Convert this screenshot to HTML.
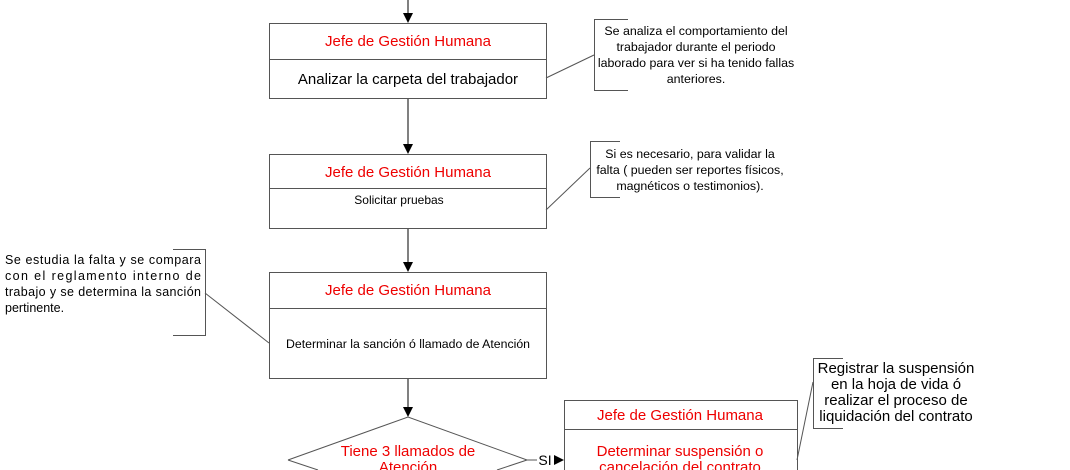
<!DOCTYPE html>
<html><head><meta charset="utf-8"><style>
html,body{margin:0;padding:0;background:#fff;width:1070px;height:470px;overflow:hidden;}
svg{display:block;font-family:"Liberation Sans",Arial,sans-serif;}
</style></head><body>
<svg width="1070" height="470" viewBox="0 0 1070 470" xmlns="http://www.w3.org/2000/svg" overflow="hidden">
<defs><marker id="a" markerWidth="10" markerHeight="10" refX="9" refY="5" orient="auto" markerUnits="userSpaceOnUse"><path d="M0,0 L10,5 L0,10 z" fill="#000"/></marker></defs>
<g stroke="#555" stroke-width="1" fill="none">
<line x1="408" y1="0" x2="408" y2="22" stroke="#000" marker-end="url(#a)"/>
<line x1="408" y1="98" x2="408" y2="153" stroke="#000" marker-end="url(#a)"/>
<line x1="408" y1="228" x2="408" y2="271" stroke="#000" marker-end="url(#a)"/>
<line x1="408" y1="378" x2="408" y2="416" stroke="#000" marker-end="url(#a)"/>
<rect x="269.5" y="23.5" width="277" height="75"/><line x1="269.5" y1="59.5" x2="546.5" y2="59.5"/>
<rect x="269.5" y="154.5" width="277" height="74"/><line x1="269.5" y1="188.5" x2="546.5" y2="188.5"/>
<rect x="269.5" y="272.5" width="277" height="106"/><line x1="269.5" y1="308.5" x2="546.5" y2="308.5"/>
<path d="M564.5,470 V400.5 H797.5 V470"/><line x1="564.5" y1="429.5" x2="797.5" y2="429.5"/>
<path d="M288,460 L408,417 L527,460"/><line x1="288" y1="460" x2="318" y2="470"/><line x1="527" y1="460" x2="497" y2="470"/>
<line x1="527" y1="460" x2="537" y2="460"/>
<line x1="554" y1="460" x2="563" y2="460" stroke="#000" marker-end="url(#a)"/>
<path d="M628,19.5 H594.5 V90.5 H628"/><line x1="546" y1="78" x2="594" y2="55"/>
<path d="M620,141.5 H590.5 V197.5 H620"/><line x1="546" y1="210" x2="590" y2="168"/>
<path d="M173,249.5 H205.5 V335.5 H173"/><line x1="205" y1="293" x2="269" y2="343"/>
<path d="M843,358.5 H813.5 V428.5 H843"/><line x1="797" y1="460" x2="813" y2="382"/>
</g>
<g font-size="15" text-anchor="middle" fill="#e00">
<text x="408" y="46">Jefe de Gestión Humana</text>
<text x="408" y="177">Jefe de Gestión Humana</text>
<text x="408" y="295">Jefe de Gestión Humana</text>
<text x="680" y="420">Jefe de Gestión Humana</text>
<text x="680" y="456">Determinar suspensión o</text>
<text x="680" y="472">cancelación del contrato</text>
<text x="408" y="456">Tiene 3 llamados de</text>
<text x="408" y="472">Atención</text>
</g>
<g text-anchor="middle" fill="#000">
<text x="408" y="84" font-size="15">Analizar la carpeta del trabajador</text>
<text x="399" y="204" font-size="12">Solicitar pruebas</text>
<text x="408" y="348" font-size="12.3">Determinar la sanción ó llamado de Atención</text>
<text x="545" y="465" font-size="14">SI</text>
</g>
<g font-size="12.4" text-anchor="middle" fill="#000">
<text x="696" y="35">Se analiza el comportamiento del</text>
<text x="696" y="51">trabajador durante el periodo</text>
<text x="696" y="67">laborado para ver si ha tenido fallas</text>
<text x="696" y="83">anteriores.</text>
<text x="690" y="158">Si es necesario,  para validar la</text>
<text x="690" y="174">falta ( pueden ser reportes físicos,</text>
<text x="690" y="190">magnéticos o testimonios).</text>
</g>
<g font-size="15" text-anchor="middle" fill="#000">
<text x="896" y="373">Registrar la suspensión</text>
<text x="896" y="389">en la hoja de vida ó</text>
<text x="896" y="405">realizar el proceso de</text>
<text x="896" y="421">liquidación del contrato</text>
</g>
<g font-size="12.5" fill="#000">
<text x="5" y="264" textLength="196" lengthAdjust="spacing">Se estudia la falta y se compara</text>
<text x="5" y="280" textLength="196" lengthAdjust="spacing">con el reglamento interno de</text>
<text x="5" y="296" textLength="196" lengthAdjust="spacing">trabajo y se determina la sanción</text>
<text x="5" y="312">pertinente.</text>
</g>
</svg>
</body></html>
